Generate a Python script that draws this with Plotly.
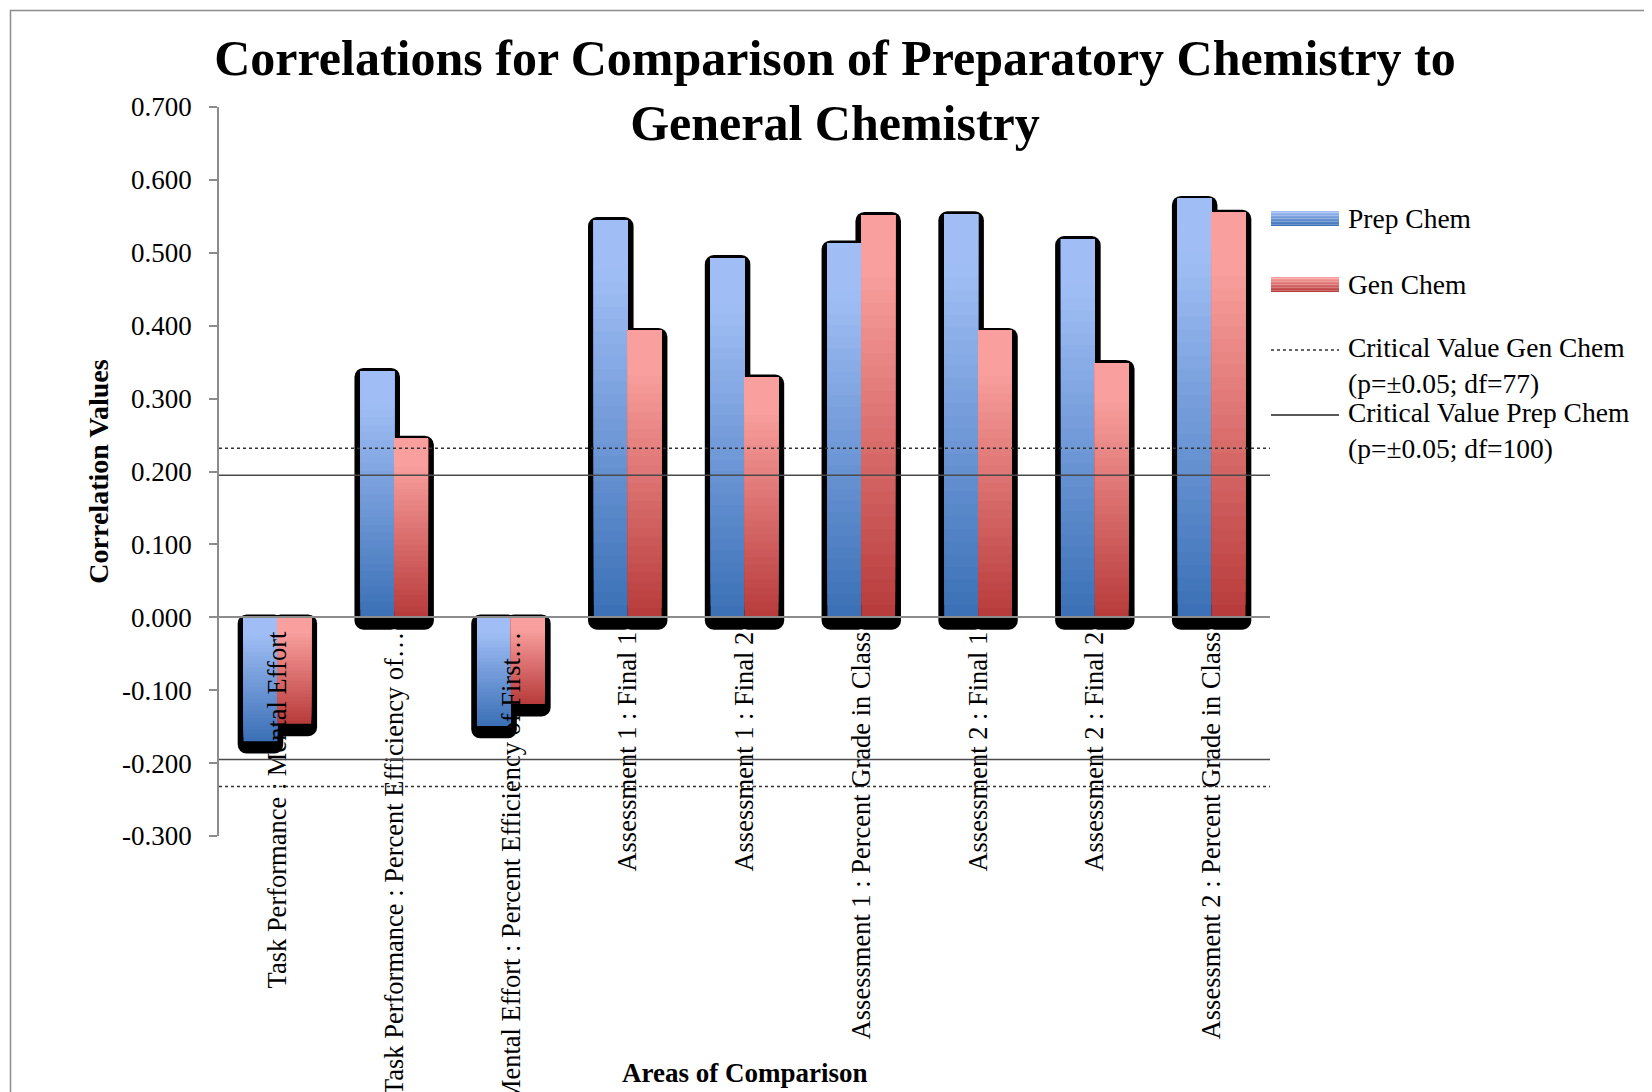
import plotly.graph_objects as go

# ---------------- data ----------------
categories = [
    "Task Performance : Mental Effort",
    "Task Performance : Percent Efficiency of\u2026",
    "Mental Effort : Percent Efficiency of First\u2026",
    "Assessment 1 : Final 1",
    "Assessment 1 : Final 2",
    "Assessment 1 : Percent Grade in Class",
    "Assessment 2 : Final 1",
    "Assessment 2 : Final 2",
    "Assessment 2 : Percent Grade in Class",
]
prep_chem = [-0.170, 0.338, -0.149, 0.545, 0.493, 0.513, 0.553, 0.519, 0.574]
gen_chem = [-0.146, 0.245, -0.119, 0.393, 0.329, 0.552, 0.393, 0.349, 0.555]
crit_gen = 0.232   # Critical Value Gen Chem (df=77)
crit_prep = 0.195  # Critical Value Prep Chem (df=100)
y_tick_vals = [0.7, 0.6, 0.5, 0.4, 0.3, 0.2, 0.1, 0.0, -0.1, -0.2, -0.3]
y_tick_text = ["0.700", "0.600", "0.500", "0.400", "0.300", "0.200", "0.100",
               "0.000", "-0.100", "-0.200", "-0.300"]
Y_MIN, Y_MAX = -0.3, 0.7

# ---------------- layout constants (page pixels) ----------------
OFF = 8                      # default body margin of the html page
FIG_W, FIG_H = 1652 - 2 * OFF, 1092 - OFF
PL, PR, PT, PB = 219, 1270, 107, 836   # plot area on the page
PW, PH = PR - PL, PB - PT
FONT = "Liberation Serif"


def px(x):
    return (x - PL) / PW


def py(y):
    return (PB - y) / PH


BLUE_LIGHT, BLUE_DARK = (160, 190, 245), (60, 113, 183)
RED_LIGHT, RED_DARK = (249, 160, 158), (185, 60, 60)


def mix(c1, c2, f):
    return "rgb(%d,%d,%d)" % tuple(round(a + (b - a) * f) for a, b in zip(c1, c2))


def grad(t, dark, light):
    return mix(dark, light, min(1.0, t / 0.85))


BAR_W = 0.29
SH_PAD_X = 0.05
SH_TOP = 0.004
SH_BOT = 0.017
N = 32

fig = go.Figure()

series = [
    ("Prep Chem", prep_chem, -BAR_W, BLUE_DARK, BLUE_LIGHT),
    ("Gen Chem", gen_chem, 0.0, RED_DARK, RED_LIGHT),
]

# shadows (drawn first)
for name, vals, off, dark, light in series:
    hi = [v + SH_TOP if v > 0 else SH_TOP for v in vals]
    lo = [-SH_BOT if v > 0 else v - SH_BOT for v in vals]
    base = [l if v > 0 else h for v, h, l in zip(vals, hi, lo)]
    span = [h - l if v > 0 else l - h for v, h, l in zip(vals, hi, lo)]
    fig.add_bar(x=categories, y=span, base=base,
                offset=off - SH_PAD_X, width=BAR_W + 2 * SH_PAD_X,
                marker=dict(color="black", cornerradius=9, line_width=0),
                hoverinfo="skip", showlegend=False)

# bars with vertical gradient
for name, vals, off, dark, light in series:
    fig.add_bar(x=categories, y=vals, name=name, offset=off, width=BAR_W,
                marker=dict(color=mix(dark, light, 0), line_width=0), showlegend=False)
    for k in range(1, N):
        t = k / N
        fig.add_bar(x=categories, y=[v * (1 - t) for v in vals],
                    base=[v * t if v > 0 else 0 for v in vals],
                    offset=off, width=BAR_W,
                    marker=dict(color=grad(t, dark, light), line_width=0),
                    hoverinfo="skip", showlegend=False)

# critical value lines
for val, dash, col in ((crit_gen, "dot", "#333333"), (crit_prep, "solid", "#4a4a4a")):
    for sgn in (1, -1):
        fig.add_shape(type="line", xref="x domain", yref="y", x0=0, x1=1,
                      y0=sgn * val, y1=sgn * val,
                      line=dict(color=col, width=1.5, dash=dash), layer="above")

# outer chart border
fig.add_shape(type="rect", xref="paper", yref="paper",
              x0=px(10.5), x1=px(1720), y0=py(1150), y1=py(10.5),
              line=dict(color="#8c8c8c", width=1.5), fillcolor="rgba(0,0,0,0)", layer="below")

# manual legend
LX0, LX1 = 1271, 1339
for (y0, y1), dark, light in (((211, 226), BLUE_DARK, BLUE_LIGHT), ((277, 292), RED_DARK, RED_LIGHT)):
    steps = 10
    for i in range(steps):
        ya = y0 + (y1 - y0) * i / steps
        yb = y0 + (y1 - y0) * (i + 1) / steps
        fig.add_shape(type="rect", xref="paper", yref="paper",
                      x0=px(LX0), x1=px(LX1), y0=py(yb), y1=py(ya),
                      fillcolor=mix(light, dark, i / (steps - 1)), line_width=0)
fig.add_shape(type="line", xref="paper", yref="paper", x0=px(LX0), x1=px(LX1),
              y0=py(350), y1=py(350), line=dict(color="#333333", width=1.5, dash="dot"))
fig.add_shape(type="line", xref="paper", yref="paper", x0=px(LX0), x1=px(LX1),
              y0=py(415), y1=py(415), line=dict(color="#222222", width=1.5))

legend_items = [
    ("Prep Chem", 218),
    ("Gen Chem", 284),
    ("Critical Value Gen Chem<br>(p=\u00b10.05; df=77)", 365),
    ("Critical Value Prep Chem<br>(p=\u00b10.05; df=100)", 430),
]
for txt, yc in legend_items:
    fig.add_annotation(text=txt, xref="paper", yref="paper", x=px(1346), y=py(yc),
                       xanchor="left", yanchor="middle", align="left", showarrow=False,
                       font=dict(family=FONT, size=27.5, color="black"))

# x-axis title
fig.add_annotation(text="<b>Areas of Comparison</b>", xref="paper", yref="paper",
                   x=0.5, y=py(1073), xanchor="center", yanchor="middle", showarrow=False,
                   font=dict(family=FONT, size=27, color="black"))

fig.update_layout(
    width=FIG_W, height=FIG_H, autosize=False,
    margin=dict(l=PL - OFF, r=OFF + FIG_W - PR, t=PT - OFF, b=OFF + FIG_H - PB),
    paper_bgcolor="white", plot_bgcolor="white",
    barmode="overlay", showlegend=False,
    title=dict(text="<b>Correlations for Comparison of Preparatory Chemistry to<br>General Chemistry</b>",
               x=(835 - OFF) / FIG_W, xref="container", xanchor="center",
               y=1 - 67 / FIG_H, yref="container", yanchor="middle",
               font=dict(family=FONT, size=50, color="black")),
    xaxis=dict(type="category", anchor="free", position=(0 - Y_MIN) / (Y_MAX - Y_MIN),
               range=[-0.5, len(categories) - 0.5],
               showline=True, linecolor="#8c8c8c", linewidth=1.5, ticks="",
               tickangle=-90, showgrid=False, layer="above traces", automargin=False,
               tickfont=dict(family=FONT, size=26.5, color="black"), ticklabelstandoff=3),
    yaxis=dict(range=[Y_MIN, Y_MAX], tickvals=y_tick_vals, ticktext=y_tick_text,
               showline=True, linecolor="#8c8c8c", linewidth=1.5,
               ticks="outside", ticklen=8, tickcolor="#8c8c8c", tickwidth=1.5,
               showgrid=False, zeroline=False, automargin=False, ticklabelstandoff=12,
               tickfont=dict(family=FONT, size=27, color="black"),
               title=dict(text="<b>Correlation Values</b>", standoff=5,
                          font=dict(family=FONT, size=28, color="black"))),
)

fig.write_html("out.html")
